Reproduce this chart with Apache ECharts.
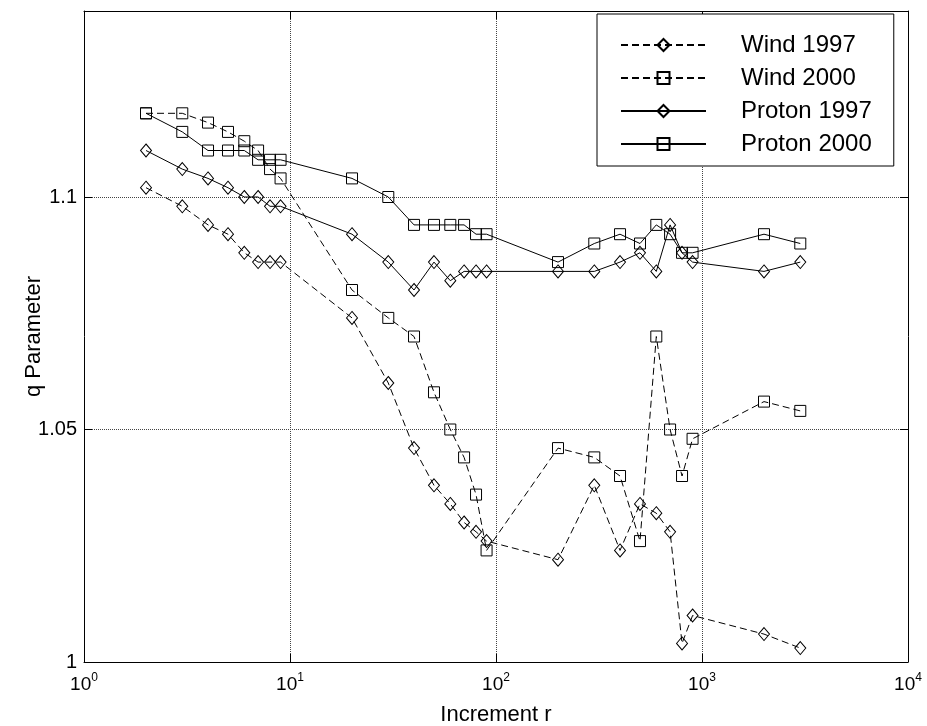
<!DOCTYPE html>
<html>
<head>
<meta charset="utf-8">
<script src="https://cdn.jsdelivr.net/npm/echarts@6/dist/echarts.min.js"></script>
<style>
html,body{margin:0;padding:0;background:#fff;}
#chart{width:927px;height:726px;}
</style>
</head>
<body>
<div id="chart"></div>
<script>
var increments = [2,3,4,5,6,7,8,9,20,30,40,50,60,70,80,90,200,300,400,500,600,700,800,900,2000,3000];
var wind1997 = [1.102,1.098,1.094,1.092,1.088,1.086,1.086,1.086,1.074,1.060,1.046,1.038,1.034,1.030,1.028,1.026,1.022,1.038,1.024,1.034,1.032,1.028,1.004,1.010,1.006,1.003];
var wind2000 = [1.118,1.118,1.116,1.114,1.112,1.110,1.106,1.104,1.080,1.074,1.070,1.058,1.050,1.044,1.036,1.024,1.046,1.044,1.040,1.026,1.070,1.050,1.040,1.048,1.056,1.054];
var proton1997 = [1.110,1.106,1.104,1.102,1.100,1.100,1.098,1.098,1.092,1.086,1.080,1.086,1.082,1.084,1.084,1.084,1.084,1.084,1.086,1.088,1.084,1.094,1.088,1.086,1.084,1.086];
var proton2000 = [1.118,1.114,1.110,1.110,1.110,1.108,1.108,1.108,1.104,1.100,1.094,1.094,1.094,1.094,1.092,1.092,1.086,1.090,1.092,1.090,1.094,1.092,1.088,1.088,1.092,1.090];
var seriesNames = ['Wind 1997','Wind 2000','Proton 1997','Proton 2000'];
var yTickLabels = ['1','1.05','1.1'];

var FONT = 'Liberation Sans, Arial, sans-serif';

function pairs(vals){ return increments.map(function(r,i){ return [r, vals[i]]; }); }

function mkSeries(name, vals, dashed, symbol){
  return {
    name: name,
    type: 'line',
    data: pairs(vals),
    symbol: symbol,
    symbolSize: symbol === 'diamond' ? [11,13] : [11,11],
    showAllSymbol: true,
    lineStyle: {color:'#000', width:1, type: dashed ? [7,4] : 'solid'},
    itemStyle: {color:'rgba(255,255,255,0)', borderColor:'#000', borderWidth:1},
    emphasis: {disabled:true},
    animation: false
  };
}

var chart = echarts.init(document.getElementById('chart'));
var logAxisBase = {
  type:'log', logBase:10, min:1, max:10000,
  axisLine:{show:true, onZero:false, lineStyle:{color:'#000', width:1}},
  axisTick:{show:true, inside:true, length:8, lineStyle:{color:'#000'}},
  minorTick:{show:false},
  splitLine:{show:false}
};
var option = {
  backgroundColor:'#fff',
  animation:false,
  grid:{left:84, right:19, top:11, bottom:64, show:false, containLabel:false, outerBoundsMode:'none'},
  legend:{
    orient:'vertical',
    left:597, top:14,
    data: seriesNames,
    itemWidth:85, itemHeight:15, itemGap:9,
    padding:[19,22,10,23],
    backgroundColor:'#fff',
    borderColor:'#000', borderWidth:1, borderRadius:0,
    textStyle:{fontFamily:FONT, fontSize:24, color:'#000', padding:[0,0,0,30]},
    selectedMode:false
  },
  xAxis:[
    Object.assign({}, logAxisBase, {
      position:'bottom',
      name:'Increment r', nameLocation:'middle', nameGap:42,
      nameTextStyle:{fontFamily:FONT, fontSize:22, color:'#000'},
      splitLine:{show:true, lineStyle:{color:'#444', type:'dotted', width:1}},
      axisLabel:{
        margin:10,
        formatter:function(v){ var e = Math.round(Math.log10(v)); return '{b|10}{s|' + e + '}'; },
        rich:{
          b:{fontFamily:FONT, fontSize:19, color:'#000', lineHeight:22, verticalAlign:'bottom'},
          s:{fontFamily:FONT, fontSize:12, color:'#000', lineHeight:22, verticalAlign:'top'}
        }
      }
    }),
    Object.assign({}, logAxisBase, {position:'top', axisLabel:{show:false}})
  ],
  yAxis:[
    {
      type:'value', min:1, max:1.14, interval:0.05,
      name:'q Parameter', nameLocation:'middle', nameGap:39, nameMoveOverlap:false,
      nameTextStyle:{fontFamily:FONT, fontSize:22, color:'#000'},
      axisLine:{show:true, lineStyle:{color:'#000', width:1}},
      axisTick:{show:true, inside:true, length:8, lineStyle:{color:'#000'}},
      splitLine:{show:true, lineStyle:{color:'#444', type:'dotted', width:1}},
      axisLabel:{
        margin:7, fontFamily:FONT, fontSize:20, color:'#000',
        formatter:function(v){
          for (var i=0;i<yTickLabels.length;i++){ if (Math.abs(v - parseFloat(yTickLabels[i])) < 1e-9) return yTickLabels[i]; }
          return '';
        }
      }
    },
    {
      type:'value', min:1, max:1.14, interval:0.05, position:'right',
      axisLine:{show:true, lineStyle:{color:'#000', width:1}},
      axisTick:{show:true, inside:true, length:8, lineStyle:{color:'#000'}},
      axisLabel:{show:false},
      splitLine:{show:false}
    }
  ],
  series:[
    mkSeries(seriesNames[0], wind1997, true, 'diamond'),
    mkSeries(seriesNames[1], wind2000, true, 'rect'),
    mkSeries(seriesNames[2], proton1997, false, 'diamond'),
    mkSeries(seriesNames[3], proton2000, false, 'rect')
  ]
};
chart.setOption(option);
</script>
</body>
</html>
